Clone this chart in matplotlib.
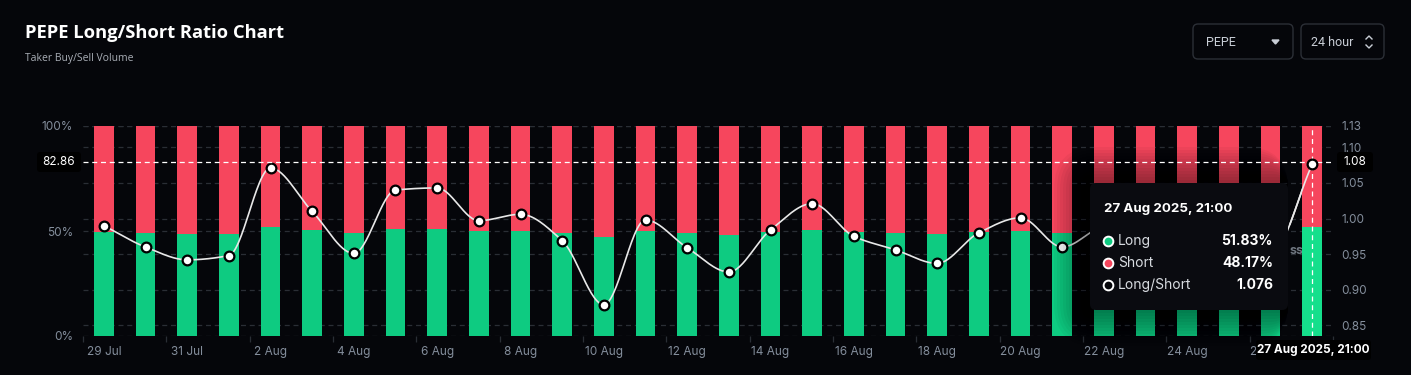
import numpy as np
import pandas as pd
import matplotlib.pyplot as plt
from matplotlib.patches import FancyBboxPatch

# ---- data ----
dates = pd.date_range('2025-07-29', periods=30, freq='D')
date_labels = [f"{d.day} {d.strftime('%b')}" for d in dates]

long_pct = [49.7, 48.9, 48.6, 48.7, 51.8, 50.3, 48.9, 50.95, 51.1, 49.85,
            50.15, 49.2, 47.0, 49.85, 48.9, 48.0, 49.7, 50.6, 49.4, 48.9,
            48.4, 49.7, 50.15, 48.9, 49.7, 50.0, 49.5, 49.0, 48.7, 51.83]
ls_ratio = [0.990, 0.960, 0.942, 0.948, 1.071, 1.010, 0.951, 1.040, 1.043, 0.997,
            1.006, 0.969, 0.879, 0.998, 0.959, 0.925, 0.984, 1.021, 0.975, 0.956,
            0.937, 0.980, 1.001, 0.960, 0.990, 1.000, 0.980, 0.960, 0.950, 1.076]
left_ticks = [0, 50, 100]
right_ticks = [0.85, 0.90, 0.95, 1.00, 1.05, 1.10, 1.13]
cross_left = 82.86
cross_right = 1.08
hover_label = '27 Aug 2025, 21:00'

BG = '#05060a'
GREEN = '#0ecb81'
GREEN_HI = '#15df8c'
RED = '#f6465d'
GRID = '#2a2e35'
TXT = '#848e9c'

W, H = 1411, 375
fig = plt.figure(figsize=(W / 100, H / 100), dpi=100, facecolor=BG)
plt.rcParams['font.family'] = ['Inter', 'DejaVu Sans']


def fx(px):
    return px / W


def fy(py):
    return 1 - py / H


x0, x1, ytop, ybot = 83, 1333, 126, 336
ax = fig.add_axes([fx(x0), fy(ybot), fx(x1 - x0), (ybot - ytop) / H])
ax.set_facecolor(BG)
ax2 = ax.twinx()

n = len(long_pct)
xs = np.arange(n)
longs = np.array(long_pct)
shorts = 100 - longs

# grid lines (all on the bar axes so the bars hide them)
ax.hlines(left_ticks, -0.5, n - 0.5, color=GRID, lw=0.9, ls=(0, (4, 3)), zorder=1)
ax.hlines(right_ticks, -0.5, n - 0.5, color=GRID, lw=0.9, ls=(0, (4, 3)), zorder=1,
          transform=ax2.transData)

green_cols = [GREEN] * (n - 1) + [GREEN_HI]
ax.bar(xs, longs, width=0.47, color=green_cols, zorder=2)
ax.bar(xs, shorts, bottom=longs, width=0.47, color=RED, zorder=2)

ax.set_yticks(left_ticks)
ax.set_yticklabels([f'{v}%' for v in left_ticks])
ax.set_xticks(xs[::2])
ax.set_xticklabels(date_labels[::2])
ax.set_xticks(np.arange(-0.5, n, 2), minor=True)
ax.tick_params(axis='x', which='major', length=0, pad=7, labelsize=8.5, colors=TXT)
ax.tick_params(axis='x', which='minor', length=4, color=GRID, width=0.9)
ax.tick_params(axis='y', length=0, pad=7, labelsize=8.5, colors=TXT)
for s in ax.spines.values():
    s.set_visible(False)


# smooth monotone curve through the ratio points
def monotone(x, y, k=30):
    x = np.asarray(x, float)
    y = np.asarray(y, float)
    h = np.diff(x)
    d = np.diff(y) / h
    m = np.zeros_like(y)
    m[0], m[-1] = d[0], d[-1]
    for i in range(1, len(y) - 1):
        if d[i - 1] * d[i] > 0:
            w1 = 2 * h[i] + h[i - 1]
            w2 = h[i] + 2 * h[i - 1]
            m[i] = (w1 + w2) / (w1 / d[i - 1] + w2 / d[i])
    px, py = [], []
    for i in range(len(x) - 1):
        t = np.linspace(0, 1, k, endpoint=False)
        h00 = 2 * t**3 - 3 * t**2 + 1
        h10 = t**3 - 2 * t**2 + t
        h01 = -2 * t**3 + 3 * t**2
        h11 = t**3 - t**2
        px.append(x[i] + t * h[i])
        py.append(h00 * y[i] + h10 * h[i] * m[i] + h01 * y[i + 1] + h11 * h[i] * m[i + 1])
    px.append([x[-1]])
    py.append([y[-1]])
    return np.concatenate(px), np.concatenate(py)


cx, cy = monotone(xs, ls_ratio)
ax2.plot(cx, cy, color='#e8e8e8', lw=1.2, zorder=3)
ax2.plot(xs[:-1], ls_ratio[:-1], 'o', ms=7, mfc='white', mec='black', mew=1.6, zorder=4)
ax2.set_yticks(right_ticks)
ax2.set_yticklabels([f'{v:.2f}' for v in right_ticks])
ax2.tick_params(axis='y', length=0, pad=6, labelsize=8.5, colors=TXT)
for s in ax2.spines.values():
    s.set_visible(False)

ax.set_xlim(-0.5, n - 0.5)
ax.set_ylim(0, 100)
ax2.set_ylim(0.835, 1.13)

# ---- overlay in pixel coordinates for UI parts ----
ov = fig.add_axes([0, 0, 1, 1])
ov.set_xlim(0, W)
ov.set_ylim(H, 0)
ov.axis('off')
ov.patch.set_alpha(0)

fig.text(fx(25), fy(33), 'PEPE Long/Short Ratio Chart', color='white', fontsize=13.2,
         fontweight='bold', va='center', family=['Open Sans', 'DejaVu Sans'])
fig.text(fx(25), fy(58), 'Taker Buy/Sell Volume', color='#a9aeb6', fontsize=7.5,
         va='center', family=['Open Sans', 'DejaVu Sans'])

# dropdowns
for (bx, bw, label) in [(1193, 100, 'PEPE'), (1301, 83, '24 hour')]:
    ov.add_patch(FancyBboxPatch((bx, 24), bw, 35, boxstyle='round,pad=0,rounding_size=5',
                                fc=BG, ec='#2b2f36', lw=1))
    ov.text(bx + 13 if label == 'PEPE' else bx + 10, 42, label, color='#c9ced6',
            fontsize=9, va='center', family=['Roboto', 'DejaVu Sans'])
ov.fill([1272, 1279, 1275.5], [40, 40, 44], color='#c9ced6')
ov.plot([1366, 1369, 1372], [39, 36, 39], color='#c9ced6', lw=1)
ov.plot([1366, 1369, 1372], [45, 48, 45], color='#c9ced6', lw=1)

# tooltip with soft shadow (left, top and bottom)
tx, ty, tw, th = 1090, 183, 198, 127
for k in range(12, 0, -1):
    e = k * 3
    ov.add_patch(FancyBboxPatch((tx - e, ty - e), tw + e, th + 2 * e,
                                boxstyle=f'round,pad=0,rounding_size={6 + e}',
                                fc='black', ec='none', alpha=0.035, zorder=6))
ov.add_patch(FancyBboxPatch((tx, ty), tw, th, boxstyle='round,pad=0,rounding_size=6',
                            fc='#0a0b10', ec='none', zorder=7))
ov.text(1104, 209, hover_label, color='white', fontsize=9.6, fontweight='bold',
        va='center', zorder=8)
rows = [('Long', f'{long_pct[-1]:.2f}%', GREEN, 'white'),
        ('Short', f'{100 - long_pct[-1]:.2f}%', RED, 'white'),
        ('Long/Short', f'{ls_ratio[-1]:.3f}', BG, 'white')]
for i, (name, val, fc, ec) in enumerate(rows):
    yy = 241 + i * 22
    ov.plot(1108, yy, 'o', ms=7, mfc=fc, mec=ec, mew=1.4, zorder=8)
    ov.text(1118, yy, name, color='#d7dbe0', fontsize=10, va='center', zorder=8)
    ov.text(1273, yy, val, color='white', fontsize=10, fontweight='bold',
            va='center', ha='right', zorder=8)
ov.text(1297, 251, 'ss', color='#6f7680', fontsize=9, fontweight='bold',
        va='center', ha='center', zorder=8)

# hovered bar: crosshair and point drawn above the shadow
hv = fig.add_axes(ax.get_position(), sharex=ax)
hv.axis('off')
hv.patch.set_alpha(0)
hv.bar(xs[-1], longs[-1], width=0.47, color=GREEN_HI)
hv.bar(xs[-1], shorts[-1], bottom=longs[-1], width=0.47, color=RED)
hv.set_ylim(0, 100)
hv.axhline(cross_left, color='white', lw=0.9, ls=(0, (4, 3)))
hv.axvline(xs[-1], color='white', lw=0.9, ls=(0, (4, 3)))
hv2 = hv.twinx()
hv2.axis('off')
hv2.plot(cx[cx >= xs[-2] + 0.45], cy[cx >= xs[-2] + 0.45], color='#e8e8e8', lw=1.2)
hv2.plot(xs[-1], ls_ratio[-1], 'o', ms=7, mfc='white', mec='black', mew=1.6)
hv2.set_ylim(0.835, 1.13)
hv.set_xlim(-0.5, n - 0.5)

# crosshair value labels (topmost overlay)
tg = fig.add_axes([0, 0, 1, 1])
tg.set_xlim(0, W)
tg.set_ylim(H, 0)
tg.axis('off')
tg.patch.set_alpha(0)


def tag(x, y, w, text, bold=False):
    tg.add_patch(FancyBboxPatch((x, y - 10), w, 20, boxstyle='round,pad=0,rounding_size=3',
                                fc='black', ec='none'))
    tg.text(x + w / 2, y, text, color='white', fontsize=8.5, va='center', ha='center',
            fontweight='bold' if bold else 'normal')


tag(37, 162, 44, f'{cross_left:.2f}')
tag(1337, 162, 36, f'{cross_right:.2f}')
tag(1256, 350, 115, hover_label, bold=True)

fig.savefig('out.png', dpi=100, facecolor=BG)
